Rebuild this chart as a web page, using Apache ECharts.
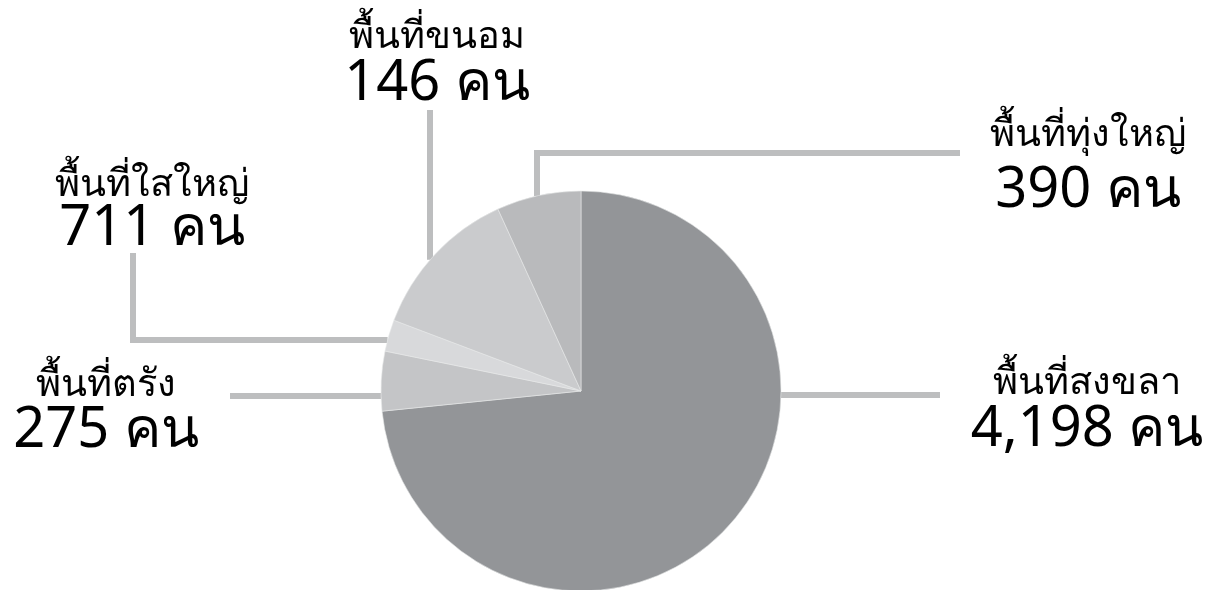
<!DOCTYPE html>
<html>
<head>
<meta charset="utf-8">
<script src="https://cdn.jsdelivr.net/npm/echarts@6/dist/echarts.min.js"></script>
<style>
  html, body { margin: 0; padding: 0; background: #fff; }
  #chart { width: 1205px; height: 590px; }
</style>
</head>
<body>
<div id="chart"></div>
<script>
// slice order, clockwise from 12 o'clock
const areaNames = ['พื้นที่สงขลา', 'พื้นที่ตรัง', 'พื้นที่ขนอม', 'พื้นที่ใสใหญ่', 'พื้นที่ทุ่งใหญ่']
const people = [4198, 275, 146, 711, 390]
const unit = 'คน'

const sliceColors = ['#939598', '#c4c5c7', '#d8d9db', '#cacbcd', '#b9babc']
const lineColor = '#bdbebf'

const cx = 581
const cy = 391
const r = 200

// label block: center x, top y, line height of the number row
const labelPos = {
  'พื้นที่สงขลา': { x: 1087, y: 363, lh: 54 },
  'พื้นที่ตรัง': { x: 106, y: 365, lh: 52 },
  'พื้นที่ขนอม': { x: 437, y: 17, lh: 54 },
  'พื้นที่ใสใหญ่': { x: 152, y: 165, lh: 48 },
  'พื้นที่ทุ่งใหญ่': { x: 1088, y: 115, lh: 72 }
}

function edgeX(y, side) {
  return cx + side * Math.sqrt(r * r - (y - cy) * (y - cy))
}
function edgeY(x) {
  return cy - Math.sqrt(r * r - (x - cx) * (x - cx))
}

function leader(name) {
  switch (name) {
    case 'พื้นที่สงขลา': {
      const y = 395
      const x0 = edgeX(y, 1)
      return [[x0, y], [(x0 + 940) / 2, y], [940, y]]
    }
    case 'พื้นที่ตรัง': {
      const y = 396
      const x0 = edgeX(y, -1)
      return [[x0, y], [(x0 + 230) / 2, y], [230, y]]
    }
    case 'พื้นที่ขนอม': {
      const x = 430
      const y0 = edgeY(x)
      return [[x, y0], [x, (y0 + 110) / 2], [x, 110]]
    }
    case 'พื้นที่ใสใหญ่': {
      const y = 340
      const x0 = edgeX(y, -1)
      return [[x0, y], [133, y], [133, 253]]
    }
    case 'พื้นที่ทุ่งใหญ่': {
      const x = 537
      const y0 = edgeY(x)
      return [[x, y0], [x, 153], [960, 153]]
    }
  }
}

const rich = {
  n: { fontSize: 38, lineHeight: 40, color: '#000', align: 'center' }
}
areaNames.forEach((name, i) => {
  rich['v' + i] = { fontSize: 56, lineHeight: labelPos[name].lh, color: '#000', align: 'center' }
})

const chart = echarts.init(document.getElementById('chart'))

chart.setOption({
  backgroundColor: '#ffffff',
  animation: false,
  series: [{
    type: 'pie',
    center: [cx, cy],
    radius: r,
    startAngle: 90,
    clockwise: true,
    data: people.map((v, i) => ({
      name: areaNames[i],
      value: v,
      itemStyle: { color: sliceColors[i] }
    })),
    itemStyle: {
      borderColor: '#e6e7e8',
      borderWidth: 0.6
    },
    label: {
      show: true,
      formatter: p => '{n|' + p.name + '}\n{v' + p.dataIndex + '|' + p.value.toLocaleString('en-US') + ' ' + unit + '}',
      fontFamily: '"Noto Sans", sans-serif',
      color: '#000',
      align: 'center',
      rich: rich
    },
    labelLine: {
      show: true,
      smooth: false,
      lineStyle: { color: lineColor, width: 6, cap: 'butt', join: 'miter' }
    },
    labelLayout: params => {
      const name = areaNames[params.dataIndex]
      const pos = labelPos[name]
      return {
        x: pos.x,
        y: pos.y,
        align: 'center',
        verticalAlign: 'top',
        labelLinePoints: leader(name)
      }
    }
  }]
})
</script>
</body>
</html>
